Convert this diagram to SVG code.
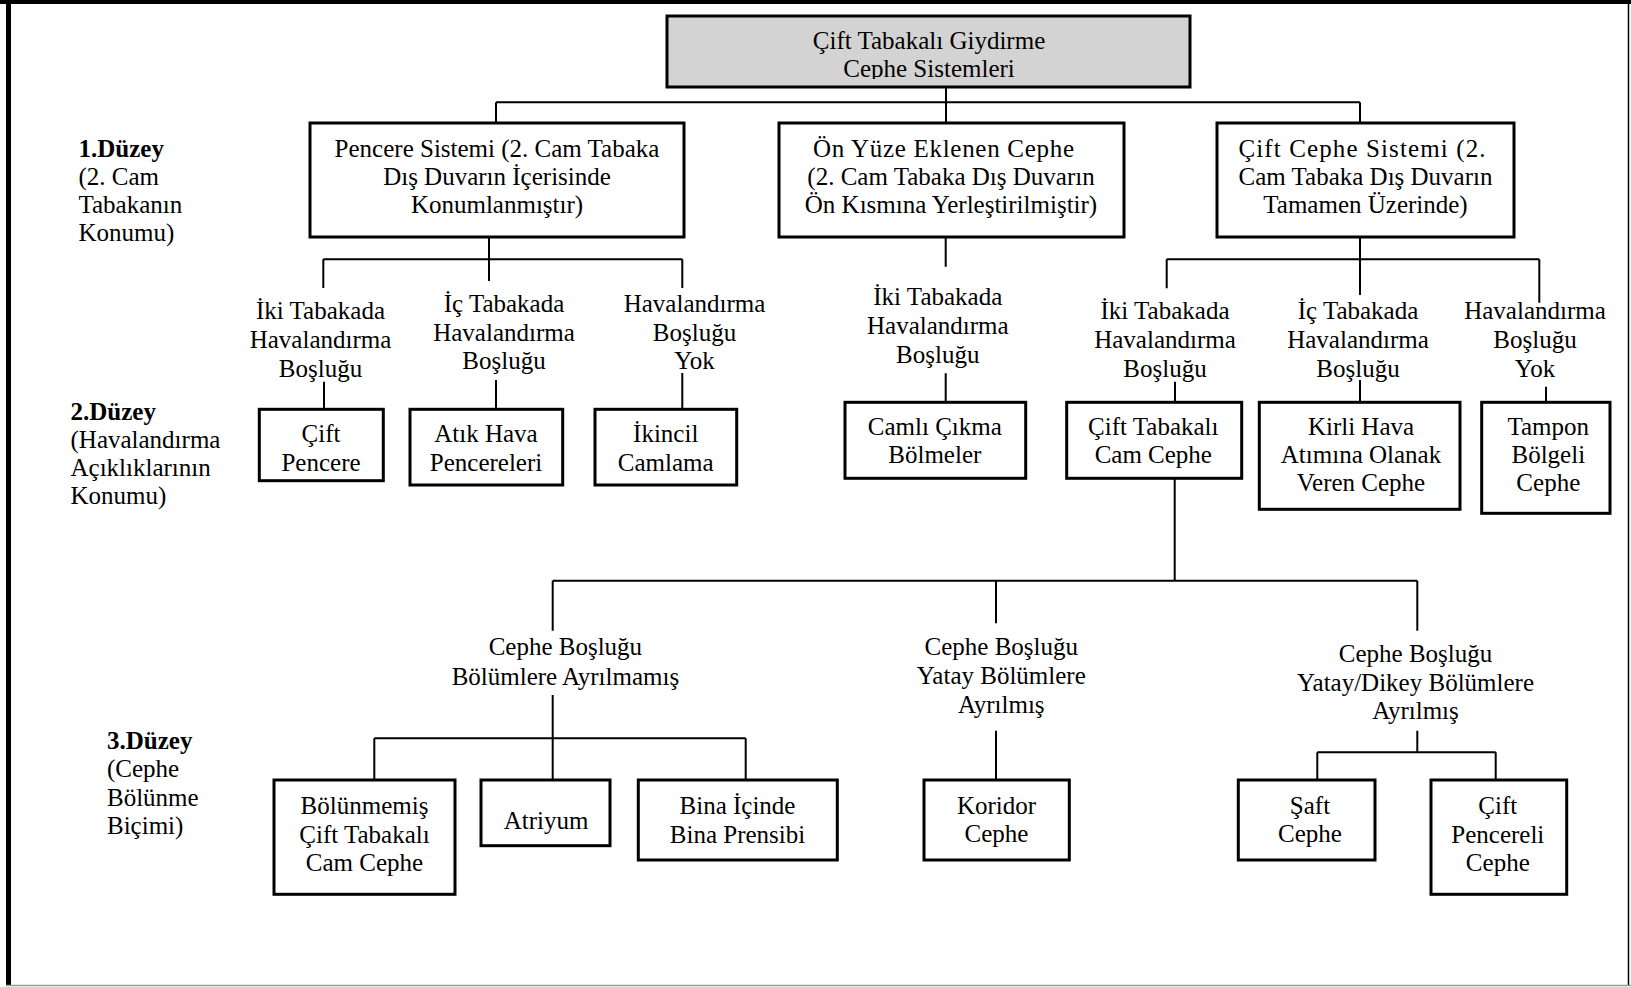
<svg xmlns="http://www.w3.org/2000/svg" width="1631" height="987" viewBox="0 0 1631 987">
  <style>
    text { font-family: "Liberation Serif", "Times New Roman", serif; font-size: 25px; fill: #000; }
    .c { text-anchor: middle; }
    .b { font-weight: bold; }
    .box { fill: #fff; stroke: #000; stroke-width: 3; }
    .root { fill: #d3d3d3; stroke: #000; stroke-width: 3; }
    .conn path { fill: none; stroke: #000; stroke-width: 2; }
  </style>
  <defs>
    <clipPath id="rootClip">
      <rect x="667" y="16" width="523" height="63"/>
    </clipPath>
  </defs>

  <!-- page frame -->
  <g id="frame">
    <rect x="0" y="0" width="1631" height="987" fill="#fff"/>
    <rect x="0" y="0" width="1631" height="4" fill="#000"/>
    <rect x="6" y="0" width="5" height="986" fill="#000"/>
    <line x1="1628.5" y1="0" x2="1628.5" y2="986" stroke="#000" stroke-width="1.5"/>
    <line x1="6" y1="985.5" x2="1631" y2="985.5" stroke="#9a9a9a" stroke-width="1.5"/>
  </g>

  <!-- level captions -->
  <g id="caption-level1">
    <text x="78.5" y="157" class="b">1.Düzey</text>
    <text x="78.5" y="185">(2. Cam</text>
    <text x="78.5" y="213">Tabakanın</text>
    <text x="78.5" y="241">Konumu)</text>
  </g>
  <g id="caption-level2">
    <text x="70.5" y="420" class="b">2.Düzey</text>
    <text x="70.5" y="447.5">(Havalandırma</text>
    <text x="70.5" y="475.5">Açıklıklarının</text>
    <text x="70.5" y="503.5">Konumu)</text>
  </g>
  <g id="caption-level3">
    <text x="107" y="749" class="b">3.Düzey</text>
    <text x="107" y="777">(Cephe</text>
    <text x="107" y="806">Bölünme</text>
    <text x="107" y="834">Biçimi)</text>
  </g>

  <!-- connectors -->
  <g id="connectors" class="conn">
    <path d="M946 87 V102.3 M496 102.3 H1360 M496 102.3 V123 M946 102.3 V123 M1360 102.3 V123"/>
    <path d="M489 237 V281 M323.3 259.3 H682.3 M323.3 259.3 V288 M682.3 259.3 V288"/>
    <path d="M324 381.7 V409.3 M496 380 V409.3 M682.3 373 V409.3"/>
    <path d="M945.7 237 V266.7 M945.7 373.3 V402.3"/>
    <path d="M1360 237 V295 M1166.7 259.3 H1539.3 M1166.7 259.3 V288.3 M1539.3 259.3 V302.7"/>
    <path d="M1175 381.7 V402.3 M1360 380 V402.3 M1546 386.7 V402.3"/>
    <path d="M1174.7 478.3 V580.7 M552.7 580.7 H1417.3 M552.7 580.7 V630.7 M996 580.7 V623.3 M1417.3 580.7 V630.7"/>
    <path d="M552.7 695 V780 M374.3 738.3 H745.7 M374.3 738.3 V780 M745.7 738.3 V780"/>
    <path d="M996 730.7 V780"/>
    <path d="M1417.3 730.7 V752.3 M1317.3 752.3 H1495.7 M1317.3 752.3 V780 M1495.7 752.3 V780"/>
  </g>

  <!-- root -->
  <g id="node-root">
    <rect class="root" x="667" y="16" width="523" height="71"/>
    <g clip-path="url(#rootClip)">
      <text x="929" y="49.3" class="c">Çift Tabakalı Giydirme</text>
      <text x="929" y="76.7" class="c">Cephe Sistemleri</text>
    </g>
  </g>

  <!-- level 1 -->
  <g id="node-pencere-sistemi">
    <rect class="box" x="310" y="123" width="374" height="114"/>
    <text x="497" y="156.7" class="c">Pencere Sistemi (2. Cam Tabaka</text>
    <text x="497" y="185" class="c">Dış Duvarın İçerisinde</text>
    <text x="497" y="213.3" class="c">Konumlanmıştır)</text>
  </g>
  <g id="node-on-yuze">
    <rect class="box" x="779" y="123" width="345" height="114"/>
    <text x="943.5" y="156.7" class="c" textLength="261" lengthAdjust="spacing">Ön Yüze Eklenen Cephe</text>
    <text x="951" y="185" class="c">(2. Cam Tabaka Dış Duvarın</text>
    <text x="951" y="213.3" class="c">Ön Kısmına Yerleştirilmiştir)</text>
  </g>
  <g id="node-cift-cephe">
    <rect class="box" x="1217" y="123" width="297" height="114"/>
    <text x="1362" y="156.7" class="c" textLength="247" lengthAdjust="spacing">Çift Cephe Sistemi (2.</text>
    <text x="1365.5" y="185" class="c">Cam Tabaka Dış Duvarın</text>
    <text x="1365.5" y="213.3" class="c">Tamamen Üzerinde)</text>
  </g>

  <!-- level 2 ventilation labels -->
  <g id="label-a-iki">
    <text x="320.5" y="319.3" class="c">İki Tabakada</text>
    <text x="320.5" y="348.3" class="c">Havalandırma</text>
    <text x="320.5" y="377.3" class="c">Boşluğu</text>
  </g>
  <g id="label-a-ic">
    <text x="504" y="311.7" class="c">İç Tabakada</text>
    <text x="504" y="340.7" class="c">Havalandırma</text>
    <text x="504" y="369.3" class="c">Boşluğu</text>
  </g>
  <g id="label-a-yok">
    <text x="694.5" y="311.7" class="c">Havalandırma</text>
    <text x="694.5" y="340.7" class="c">Boşluğu</text>
    <text x="694.5" y="369.3" class="c">Yok</text>
  </g>
  <g id="label-b-iki">
    <text x="937.8" y="305" class="c">İki Tabakada</text>
    <text x="937.8" y="334" class="c">Havalandırma</text>
    <text x="937.8" y="362.7" class="c">Boşluğu</text>
  </g>
  <g id="label-c-iki">
    <text x="1165" y="319.3" class="c">İki Tabakada</text>
    <text x="1165" y="348.3" class="c">Havalandırma</text>
    <text x="1165" y="376.7" class="c">Boşluğu</text>
  </g>
  <g id="label-c-ic">
    <text x="1358" y="319.3" class="c">İç Tabakada</text>
    <text x="1358" y="348.3" class="c">Havalandırma</text>
    <text x="1358" y="376.7" class="c">Boşluğu</text>
  </g>
  <g id="label-c-yok">
    <text x="1535" y="319.3" class="c">Havalandırma</text>
    <text x="1535" y="348.3" class="c">Boşluğu</text>
    <text x="1535" y="376.7" class="c">Yok</text>
  </g>

  <!-- level 2 boxes -->
  <g id="node-cift-pencere">
    <rect class="box" x="259.3" y="409.3" width="124" height="71.4"/>
    <text x="321" y="441.7" class="c">Çift</text>
    <text x="321" y="470.7" class="c">Pencere</text>
  </g>
  <g id="node-atik-hava">
    <rect class="box" x="410" y="409.3" width="152.7" height="75.7"/>
    <text x="486" y="441.7" class="c">Atık Hava</text>
    <text x="486" y="470.7" class="c">Pencereleri</text>
  </g>
  <g id="node-ikincil">
    <rect class="box" x="595" y="409.3" width="141.7" height="75.7"/>
    <text x="665.7" y="441.7" class="c">İkincil</text>
    <text x="665.7" y="470.7" class="c">Camlama</text>
  </g>
  <g id="node-camli-cikma">
    <rect class="box" x="845" y="402.3" width="180.7" height="76"/>
    <text x="934.8" y="435" class="c">Camlı Çıkma</text>
    <text x="934.8" y="462.7" class="c">Bölmeler</text>
  </g>
  <g id="node-cift-tabakali">
    <rect class="box" x="1066.7" y="402.3" width="175" height="76"/>
    <text x="1153.3" y="435" class="c">Çift Tabakalı</text>
    <text x="1153.3" y="462.7" class="c">Cam Cephe</text>
  </g>
  <g id="node-kirli-hava">
    <rect class="box" x="1259.3" y="402.3" width="200.7" height="107"/>
    <text x="1361" y="435" class="c">Kirli Hava</text>
    <text x="1361" y="462.7" class="c">Atımına Olanak</text>
    <text x="1361" y="490.7" class="c">Veren Cephe</text>
  </g>
  <g id="node-tampon">
    <rect class="box" x="1481.7" y="402.3" width="128.3" height="111"/>
    <text x="1548.3" y="435" class="c">Tampon</text>
    <text x="1548.3" y="462.7" class="c">Bölgeli</text>
    <text x="1548.3" y="490.7" class="c">Cephe</text>
  </g>

  <!-- level 3 partition labels -->
  <g id="label-bolunmemis">
    <text x="565.4" y="655" class="c">Cephe Boşluğu</text>
    <text x="565.4" y="685" class="c">Bölümlere Ayrılmamış</text>
  </g>
  <g id="label-yatay">
    <text x="1001.3" y="655" class="c">Cephe Boşluğu</text>
    <text x="1001.3" y="684" class="c">Yatay Bölümlere</text>
    <text x="1001.3" y="712.7" class="c">Ayrılmış</text>
  </g>
  <g id="label-yatay-dikey">
    <text x="1415.5" y="661.7" class="c">Cephe Boşluğu</text>
    <text x="1415.5" y="690.7" class="c">Yatay/Dikey Bölümlere</text>
    <text x="1415.5" y="719.3" class="c">Ayrılmış</text>
  </g>

  <!-- level 3 boxes -->
  <g id="node-bolunmemis">
    <rect class="box" x="274" y="780" width="181" height="114.3"/>
    <text x="364.5" y="814" class="c">Bölünmemiş</text>
    <text x="364.5" y="842.7" class="c">Çift Tabakalı</text>
    <text x="364.5" y="870.7" class="c">Cam Cephe</text>
  </g>
  <g id="node-atriyum">
    <rect class="box" x="481" y="780" width="129" height="65.7"/>
    <text x="546" y="829.3" class="c">Atriyum</text>
  </g>
  <g id="node-bina">
    <rect class="box" x="638.3" y="780" width="199" height="80"/>
    <text x="737.5" y="814" class="c">Bina İçinde</text>
    <text x="737.5" y="842.7" class="c">Bina Prensibi</text>
  </g>
  <g id="node-koridor">
    <rect class="box" x="924" y="780" width="145.3" height="80"/>
    <text x="996.5" y="814" class="c">Koridor</text>
    <text x="996.5" y="841.7" class="c">Cephe</text>
  </g>
  <g id="node-saft">
    <rect class="box" x="1238.3" y="780" width="136.7" height="80"/>
    <text x="1310" y="814" class="c">Şaft</text>
    <text x="1310" y="841.7" class="c">Cephe</text>
  </g>
  <g id="node-cift-pencereli">
    <rect class="box" x="1431" y="780" width="135.7" height="114.3"/>
    <text x="1497.8" y="814" class="c">Çift</text>
    <text x="1497.8" y="842.7" class="c">Pencereli</text>
    <text x="1497.8" y="870.7" class="c">Cephe</text>
  </g>
</svg>
